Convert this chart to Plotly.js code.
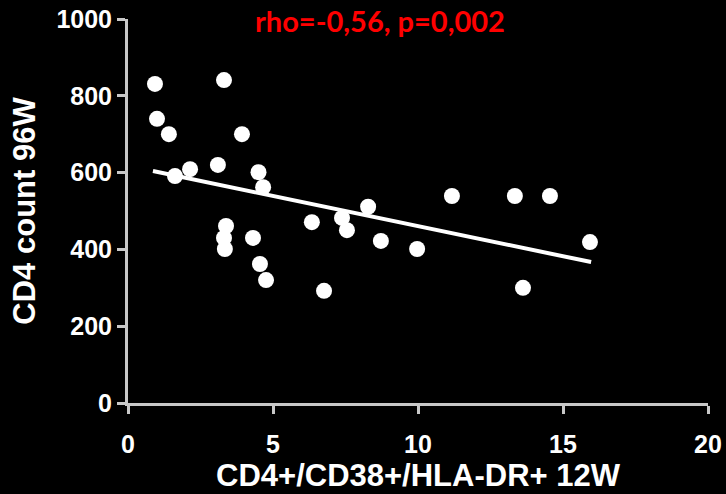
<!DOCTYPE html>
<html>
<head>
<meta charset="utf-8">
<script src="https://cdn.plot.ly/plotly-3.0.1.min.js"></script>
<style>html,body{margin:0;padding:0;background:#000;}#chart{width:726px;height:494px;}</style>
</head>
<body>
<div id="chart"></div>
<script>
// Scatter data: CD4+/CD38+/HLA-DR+ at 12W vs CD4 count at 96W
const activation12W = [0.93, 1.0, 1.41, 1.62, 2.14, 3.1, 3.31, 3.93, 4.5, 4.66,
  3.38, 3.31, 3.34, 4.31, 4.55, 4.76, 6.34, 6.76, 7.38, 7.55,
  8.28, 8.72, 9.97, 11.17, 13.34, 13.62, 14.55, 15.93];
const cd4Count96W = [831, 740, 700, 591, 609, 620, 841, 700, 601, 562,
  461, 430, 401, 430, 362, 320, 471, 292, 482, 450,
  511, 422, 401, 539, 539, 300, 539, 419];
// Regression line endpoints
const fitX = [0.86, 15.97];
const fitY = [604, 367];
const xTicks = [0, 5, 10, 15, 20];
const yTicks = [0, 200, 400, 600, 800, 1000];
const statText = "rho=-0,56, p=0,002";

const axisColor = '#c8c8c8';
const fam = 'Liberation Sans, Arial, sans-serif';
const tickFont = {family: fam, size: 25, color: '#ffffff', weight: 'bold'};
const titleFont = {family: fam, size: 31, color: '#ffffff', weight: 'bold'};

const traces = [
  {x: fitX, y: fitY, mode: 'lines', line: {color: '#ffffff', width: 4}, hoverinfo: 'skip', showlegend: false},
  {x: activation12W, y: cd4Count96W, mode: 'markers', marker: {color: '#ffffff', size: 16, line: {width: 0}}, showlegend: false}
];

const layout = {
  width: 726, height: 494,
  paper_bgcolor: '#000000', plot_bgcolor: '#000000',
  margin: {l: 128, r: 18, t: 19, b: 91},
  showlegend: false,
  xaxis: {
    range: [0, 20], tickvals: xTicks, ticktext: xTicks.map(String),
    showgrid: false, zeroline: false, showline: true, linecolor: axisColor, linewidth: 3,
    ticks: 'outside', ticklen: 8, tickwidth: 3, tickcolor: axisColor,
    tickfont: tickFont, ticklabelstandoff: 9,
    title: {text: 'CD4+/CD38+/HLA-DR+ 12W', font: titleFont, standoff: 7}
  },
  yaxis: {
    range: [0, 1000], tickvals: yTicks, ticktext: yTicks.map(String),
    showgrid: false, zeroline: false, showline: true, linecolor: axisColor, linewidth: 3,
    ticks: 'outside', ticklen: 8, tickwidth: 3, tickcolor: axisColor,
    tickfont: tickFont,
    title: {text: 'CD4 count 96W', font: titleFont, standoff: 12}
  },
  annotations: [{
    text: statText, xref: 'paper', yref: 'paper', x: 0.435, y: 0.995,
    xanchor: 'center', yanchor: 'middle', showarrow: false,
    font: {family: 'Lato, sans-serif', size: 29, color: '#ff0000', weight: 'bold'}
  }]
};

Plotly.newPlot('chart', traces, layout, {displayModeBar: false, staticPlot: true});
</script>
</body>
</html>
